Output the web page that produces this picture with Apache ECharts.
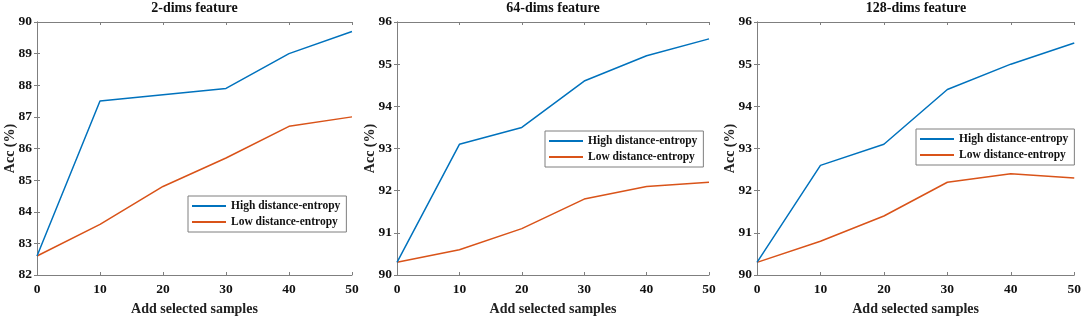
<!DOCTYPE html>
<html>
<head>
<meta charset="utf-8">
<script src="https://cdn.jsdelivr.net/npm/echarts@6/dist/echarts.min.js"></script>
<style>
  html, body { margin: 0; padding: 0; background: #fff; }
  #chart { width: 1084px; height: 321px; }
</style>
</head>
<body>
<div id="chart"></div>
<script>
// x positions (number of added samples)
var samples = [0, 10, 20, 30, 40, 50]

// 2-dims feature
var high2 = [82.6, 87.5, 87.7, 87.9, 89.0, 89.7]
var low2 = [82.6, 83.6, 84.8, 85.7, 86.7, 87.0]
// 64-dims feature
var high64 = [90.3, 93.1, 93.5, 94.6, 95.2, 95.6]
var low64 = [90.3, 90.6, 91.1, 91.8, 92.1, 92.2]
// 128-dims feature
var high128 = [90.3, 92.6, 93.1, 94.4, 95.0, 95.5]
var low128 = [90.3, 90.8, 91.4, 92.2, 92.4, 92.3]

var titles = ['2-dims feature', '64-dims feature', '128-dims feature']
var yRanges = [[82, 90], [90, 96], [90, 96]]
var highName = 'High distance-entropy'
var lowName = 'Low distance-entropy'

var FONT = '"Liberation Serif", "Times New Roman", serif'
var AXIS_COLOR = '#7f7f7f'
var BLUE = '#0072BD'
var ORANGE = '#D95319'

var grids = [
  {left: 37, top: 22, width: 315, height: 256},
  {left: 397, top: 22, width: 312, height: 255},
  {left: 757, top: 22, width: 318, height: 253}
]
var legendPos = [
  {left: 188, top: 196},
  {left: 545, top: 131},
  {left: 916, top: 129}
]

function pairs (ys) {
  return samples.map(function (x, i) { return [x, ys[i]] })
}

var seriesData = [[high2, low2], [high64, low64], [high128, low128]]

var xAxis = []
var yAxis = []
var series = []
var title = []
var legend = []

grids.forEach(function (g, i) {
  // main bottom axis
  xAxis.push({
    type: 'value', gridIndex: i, min: 0, max: 50, interval: 10,
    name: 'Add selected samples', nameLocation: 'middle', nameGap: 27,
    nameTextStyle: {fontFamily: FONT, fontWeight: 'bold', fontSize: 14, color: '#222'},
    axisLine: {show: true, lineStyle: {color: AXIS_COLOR}},
    axisTick: {show: true, inside: true, length: 3, lineStyle: {color: AXIS_COLOR}},
    axisLabel: {fontFamily: FONT, fontWeight: 'bold', fontSize: 13.5, color: '#111', margin: 8},
    splitLine: {show: false}
  })
  // mirrored top axis (box)
  xAxis.push({
    type: 'value', gridIndex: i, min: 0, max: 50, interval: 10, position: 'top',
    axisLine: {show: true, lineStyle: {color: AXIS_COLOR}},
    axisTick: {show: true, inside: true, length: 3, lineStyle: {color: AXIS_COLOR}},
    axisLabel: {show: false},
    splitLine: {show: false}
  })
  yAxis.push({
    type: 'value', gridIndex: i, min: yRanges[i][0], max: yRanges[i][1], interval: 1,
    name: 'Acc (%)', nameLocation: 'middle', nameGap: 20, nameMoveOverlap: false,
    nameTextStyle: {fontFamily: FONT, fontWeight: 'bold', fontSize: 14, color: '#222'},
    axisLine: {show: true, lineStyle: {color: AXIS_COLOR}},
    axisTick: {show: true, inside: true, length: 3, lineStyle: {color: AXIS_COLOR}},
    axisLabel: {fontFamily: FONT, fontWeight: 'bold', fontSize: 13.5, color: '#111', margin: 5},
    splitLine: {show: false}
  })
  yAxis.push({
    type: 'value', gridIndex: i, min: yRanges[i][0], max: yRanges[i][1], interval: 1, position: 'right',
    axisLine: {show: true, lineStyle: {color: AXIS_COLOR}},
    axisTick: {show: true, inside: true, length: 3, lineStyle: {color: AXIS_COLOR}},
    axisLabel: {show: false},
    splitLine: {show: false}
  })
  title.push({
    text: titles[i],
    left: g.left + g.width / 2,
    top: 1,
    padding: 0,
    textAlign: 'center',
    textStyle: {fontFamily: FONT, fontWeight: 'bold', fontSize: 14, color: '#111'}
  })
  legend.push({
    orient: 'vertical',
    left: legendPos[i].left,
    top: legendPos[i].top,
    data: [highName, lowName],
    itemWidth: 34,
    itemHeight: 14,
    itemGap: 4,
    padding: [4, 6, 4, 3],
    borderColor: AXIS_COLOR,
    borderWidth: 1,
    backgroundColor: '#fff',
    selectedMode: false,
    itemStyle: {opacity: 0},
    textStyle: {fontFamily: FONT, fontWeight: 'bold', fontSize: 11.5, color: '#111'}
  })
  series.push({
    name: highName, type: 'line', xAxisIndex: i * 2, yAxisIndex: i * 2,
    data: pairs(seriesData[i][0]), symbol: 'none', color: BLUE,
    lineStyle: {width: 1.5, color: BLUE}, z: 3
  })
  series.push({
    name: lowName, type: 'line', xAxisIndex: i * 2, yAxisIndex: i * 2,
    data: pairs(seriesData[i][1]), symbol: 'none', color: ORANGE,
    lineStyle: {width: 1.5, color: ORANGE}, z: 2
  })
})

var chart = echarts.init(document.getElementById('chart'))
chart.setOption({
  animation: false,
  backgroundColor: '#fff',
  title: title,
  legend: legend,
  grid: grids,
  xAxis: xAxis,
  yAxis: yAxis,
  series: series
})
</script>
</body>
</html>
